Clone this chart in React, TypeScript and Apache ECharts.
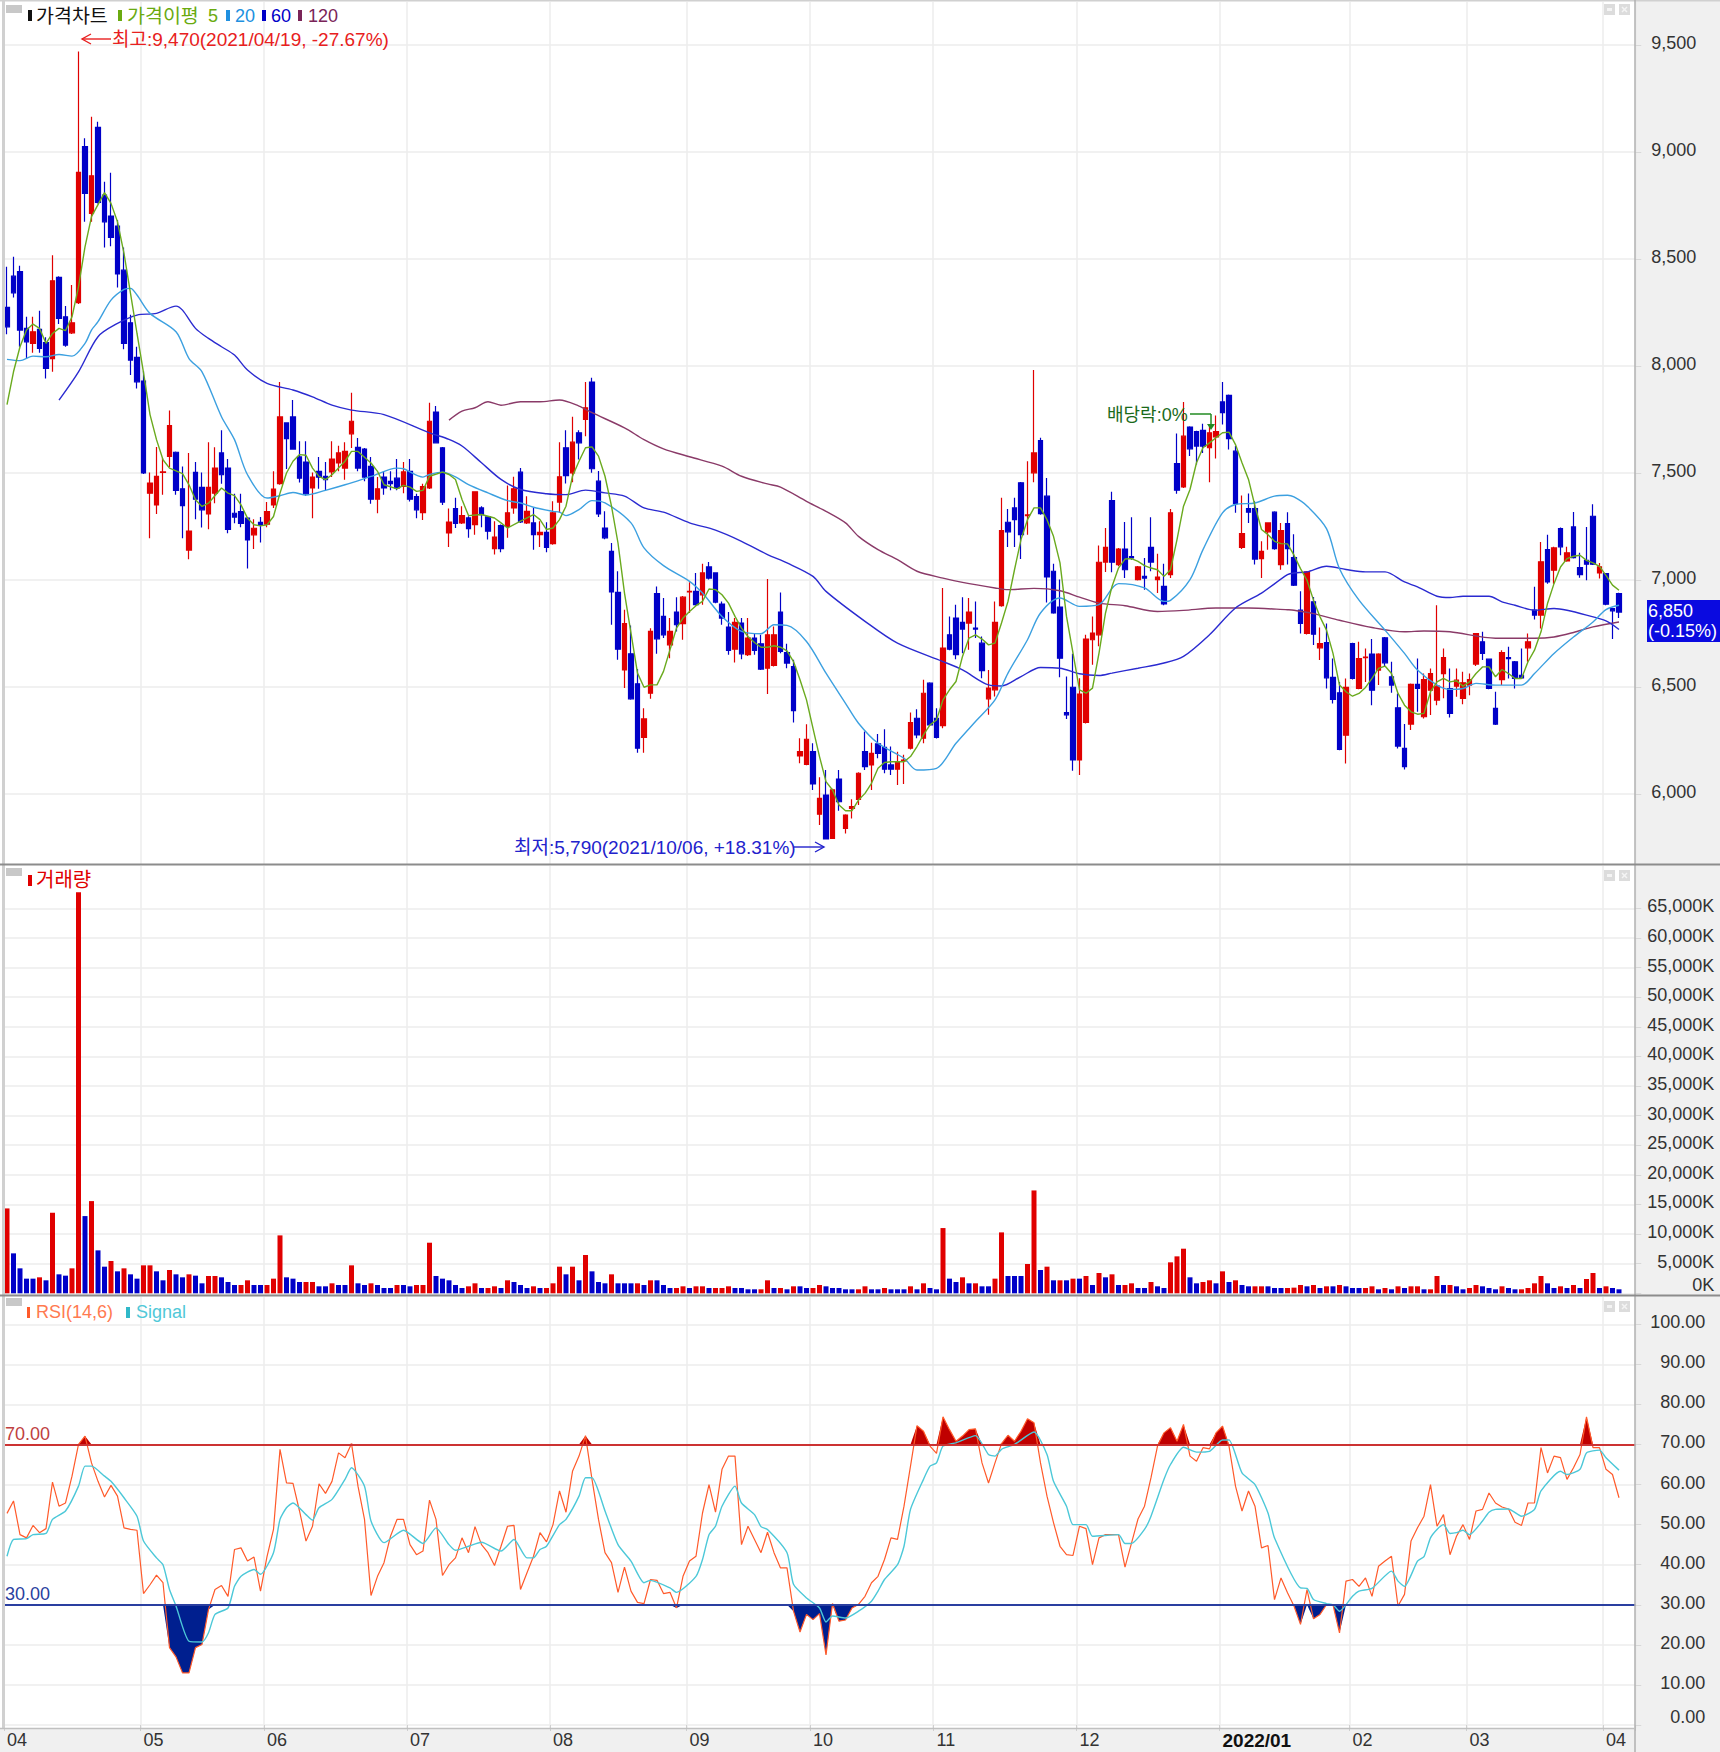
import React, { useEffect, useRef } from 'react';
import * as echarts from 'echarts';

const opens = [
  8274,8420,8441,8176,8106,8171,8109,8035,8414,8230,
  8155,8296,9025,8713,9115,8799,8701,8654,8448,8202,
  8040,7930,7406,7351,7503,7578,7597,7426,7140,7503,
  7433,7309,7406,7594,7523,7312,7320,7289,7211,7269,
  7261,7351,7450,7734,7762,7575,7551,7430,7508,7484,
  7505,7547,7523,7683,7620,7612,7531,7378,7481,7461,
  7476,7437,7508,7390,7315,7430,7785,7618,7220,7334,
  7267,7290,7259,7337,7295,7147,7254,7251,7337,7504,
  7267,7267,7212,7223,7170,7364,7618,7501,7688,7750,
  7925,7462,7243,7134,6942,6580,6655,6515,6264,6471,
  6936,6830,6697,6850,6796,6944,6947,6931,7061,7033,
  6888,6780,6677,6799,6651,6729,6702,6588,6601,6850,
  6661,6596,6178,6139,6198,5906,5995,5793,6070,5839,
  5933,5975,6198,6136,6234,6218,6136,6116,6155,6214,
  6354,6261,6518,6354,6320,6744,6822,6802,6799,6775,
  6705,6445,6487,6880,7270,7337,7454,7301,7501,7652,
  7392,7041,6874,6381,6499,6159,6335,6721,6744,7084,
  7371,7072,7145,7110,7002,7017,7153,7002,6970,7025,
  7544,7435,7715,7693,7699,7618,7669,7832,7863,7602,
  7153,7334,7334,7100,7225,7317,7072,7264,7105,6859,
  6750,6898,6683,6708,6545,6473,6275,6703,6493,6637,
  6654,6579,6730,6548,6403,6213,6327,6512,6361,6485,
  6439,6563,6493,6504,6447,6509,6607,6711,6630,6400,
  6535,6638,6618,6555,6683,6859,6836,7142,7046,7240,
  7089,7248,7058,7092,7298,7033,7030,6867,6937,
];
const closes = [
  8183,8342,8168,8113,8160,8082,7989,8398,8222,8098,
  8202,8905,8807,8889,8765,8674,8601,8430,8106,8028,
  7926,7500,7453,7484,7505,7722,7419,7348,7229,7378,
  7328,7433,7523,7492,7237,7294,7265,7187,7242,7256,
  7320,7425,7762,7661,7612,7476,7403,7481,7481,7469,
  7565,7594,7601,7742,7523,7481,7378,7426,7430,7450,
  7430,7505,7378,7328,7437,7742,7641,7364,7271,7264,
  7301,7240,7412,7306,7228,7201,7147,7314,7426,7271,
  7321,7212,7223,7153,7314,7482,7488,7644,7641,7805,
  7520,7309,7197,6944,6677,6796,6445,6214,6351,6760,
  6725,6744,6760,6791,6920,6947,6885,7033,7009,6897,
  6822,6671,6802,6655,6729,6671,6584,6744,6744,6666,
  6612,6390,6198,6256,6047,5980,5790,6019,5964,5902,
  5941,6097,6128,6190,6190,6116,6116,6151,6159,6334,
  6276,6471,6323,6265,6682,6677,6651,6771,6850,6771,
  6577,6495,6802,7231,7225,7282,7212,7304,7594,7310,
  7014,6846,6635,6370,6159,6467,6724,6752,7083,7153,
  7083,7145,7048,7103,7061,7009,7084,7014,6888,7314,
  7420,7672,7613,7626,7626,7688,7693,7782,7661,7357,
  7217,7317,7098,7134,7267,7147,7231,7147,6976,6797,
  7038,6747,6703,6543,6442,6208,6498,6540,6633,6640,
  6485,6654,6613,6509,6224,6128,6512,6493,6535,6563,
  6504,6638,6377,6532,6520,6535,6750,6657,6493,6327,
  6661,6633,6540,6543,6711,6836,7085,6991,7150,7155,
  7127,7105,7025,7074,7074,7061,6887,6856,6850,
];
const lows = [
  8148,8320,8090,8035,8062,8062,7942,7973,8196,8090,
  8150,8290,8674,8674,8760,8554,8560,8367,8078,7958,
  7895,7495,7195,7309,7398,7528,7398,7195,7097,7284,
  7245,7237,7359,7450,7219,7265,7247,7054,7145,7175,
  7247,7336,7445,7519,7610,7456,7394,7289,7426,7419,
  7481,7508,7469,7617,7508,7461,7356,7312,7398,7419,
  7419,7406,7367,7289,7281,7425,7640,7350,7154,7243,
  7262,7197,7212,7247,7189,7119,7130,7197,7310,7267,
  7262,7142,7154,7130,7165,7314,7451,7457,7563,7672,
  7501,7295,7190,6791,6627,6495,6440,6193,6193,6445,
  6655,6729,6635,6760,6721,6846,6880,6885,7002,6892,
  6791,6651,6615,6630,6645,6651,6580,6467,6596,6658,
  6588,6334,6144,6135,6019,5855,5790,5790,5922,5816,
  5886,5949,6112,6019,6167,6097,6089,6042,6047,6208,
  6261,6237,6320,6260,6307,6672,6630,6658,6674,6729,
  6541,6370,6456,6875,7154,7154,7098,7212,7457,7305,
  6895,6842,6546,6350,6109,6089,6330,6604,6690,7037,
  7036,7064,7009,7095,6998,6955,7041,6939,6882,7009,
  7403,7430,7579,7540,7594,7457,7568,7727,7610,7314,
  7145,7267,7072,7009,7142,7142,7048,7072,6972,6750,
  6745,6696,6626,6493,6423,6205,6143,6535,6490,6524,
  6415,6509,6594,6473,6213,6115,6299,6384,6353,6369,
  6415,6447,6358,6454,6419,6462,6598,6626,6489,6322,
  6509,6540,6493,6538,6618,6815,6773,6983,6983,7116,
  7085,7100,7011,6999,7070,7007,6882,6724,6823,
];
const highs = [
  8464,8511,8469,8230,8230,8258,8134,8518,8420,8280,
  8378,9470,9064,9165,9142,8861,8903,8682,8554,8240,
  8090,7977,7503,7622,7570,7792,7600,7531,7594,7551,
  7503,7644,7620,7700,7565,7403,7403,7295,7284,7294,
  7364,7508,7925,7737,7841,7648,7648,7503,7575,7551,
  7648,7628,7644,7875,7664,7617,7575,7481,7508,7508,
  7565,7551,7565,7403,7450,7828,7813,7622,7334,7384,
  7345,7298,7414,7345,7298,7275,7259,7442,7482,7524,
  7392,7337,7275,7270,7368,7644,7700,7763,7700,7925,
  7945,7509,7321,7173,7041,6861,6788,6584,6401,6775,
  6970,6916,6822,6920,6925,6989,7033,7076,7084,7036,
  6900,6850,6822,6822,6822,6752,6744,7005,6783,6942,
  6702,6627,6261,6326,6237,6078,6112,6025,6112,5905,
  5975,6102,6292,6240,6281,6303,6222,6198,6183,6381,
  6396,6534,6522,6401,6963,6830,6885,6920,6916,6900,
  6736,6580,6900,7384,7332,7384,7458,7555,7981,7665,
  7477,7076,7002,6549,6655,6541,6744,6830,7161,7243,
  7412,7150,7271,7293,7065,7103,7293,7123,7076,7332,
  7685,7832,7718,7697,7730,7719,7769,7925,7867,7626,
  7395,7404,7368,7181,7270,7321,7267,7317,7214,6948,
  7042,6921,6778,6797,6633,6524,6540,6707,6711,6680,
  6724,6658,6734,6618,6470,6327,6516,6633,6563,6587,
  6882,6680,6587,6587,6571,6563,6753,6758,6633,6478,
  6672,6688,6622,6680,6750,6968,7178,7212,7155,7245,
  7155,7318,7127,7248,7354,7080,7033,6870,6940,
];

// volume in thousands, and whether that bar is red (R) or blue (B)
const volumes = [
  14331,6744,4215,2473,2473,2698,2192,13600,3203,2979,
  4215,67720,13038,15567,7250,4496,5451,3709,4215,3203,
  2473,4721,4721,3709,2192,3934,3203,2698,3203,2979,
  1686,2922,2922,2698,1911,1405,1405,2192,1405,1405,
  1405,2473,9779,2698,2473,1911,1911,1911,1180,1180,
  1686,1405,1405,4721,1686,1405,1686,1405,899,899,
  1405,1405,1180,1405,1405,8542,2922,2473,2192,1405,
  899,1180,1686,899,899,1180,899,2192,1911,1405,
  899,1180,899,899,1686,4496,3203,4496,2192,6463,
  3709,1911,1686,3203,1686,1686,1686,1686,1405,2192,
  2192,1405,899,899,1180,899,1180,1180,899,899,
  899,1180,899,899,674,674,674,2192,899,899,
  674,1180,1180,899,899,1405,1180,899,899,674,
  674,674,1180,674,674,899,674,674,674,1180,
  674,1686,899,674,11015,2473,1911,2698,1686,1686,
  1180,1180,2473,10285,2922,2922,2922,4946,17366,3934,
  4496,2192,2192,2192,2473,2473,2922,1405,3428,2698,
  3203,1405,1405,1686,899,899,1911,1180,899,5227,
  6238,7531,2698,1686,1911,2192,1686,3709,1911,2192,
  1405,1180,1180,1180,1180,899,899,899,955,1405,
  1180,1405,899,1180,1180,1405,1180,899,899,899,
  1180,674,899,674,1180,899,1180,1180,674,674,
  2922,1405,1405,1180,674,899,1405,1180,899,674,
  1180,899,674,674,899,1686,2922,1686,899,1180,
  899,1405,899,2417,3428,899,1180,899,674,
];
const volumeSides =
  'RBBBBRBRBB' + 'RRBRBBRBRB' + 'BRRBBRBBRB' + 'BRRBBBRRBB' + 'RRRBBBRRBB' +
  'RBBRBBRBBB' + 'RBBRRRBBBB' + 'BRRBRRBRBB' + 'BRBRRRBRBR' + 'BBBRBBBRBR' +
  'BBBRRBRRBR' + 'RRBBBBRRBR' + 'BRBBRRBBBB' + 'BRRBBRBBBR' + 'BRBBRBBRBR' +
  'BBRRBBBRRB' + 'RBRBRBRBRB' + 'RBRRBBRBBR' + 'RRBBRRBRBR' + 'BBRRBBBRRR' +
  'BRBRBRBBBR' + 'RBRBRBRRBR' + 'RBRBBRRBBB' + 'RBBRRRRBBR' + 'BRBRRBRBB';

const rsi = [
  52.8,55.9,47.5,46.7,49.8,48,49,60.6,54.6,55.4,
  62.1,70,72.1,65.4,60.8,56.9,59.8,57.1,49.2,48.8,
  48.6,32.8,35,37.4,35.5,19.3,17,13,13,19.3,
  20.1,28.8,33.8,34.8,32.1,43.8,44.2,40.9,41.9,33.4,
  42,48.8,68.8,60.4,60.3,53.4,45.9,49.6,60.2,57.8,
  60.8,67.9,66.7,70.2,59.6,51.3,32.3,37.1,40.5,47.1,
  51.3,51.3,45,42.5,43.4,56.1,51.3,37.3,40,41.7,
  46.7,43,49.5,45,43,39.8,44.6,49.6,49.8,33.8,
  38,42.1,48,45.7,50,58.4,53.1,63.3,67.1,72.2,
  61.3,51.3,43,40.5,33.1,39.4,33.4,30.6,30.3,36.3,
  36.1,32.8,33.1,29.2,37.1,40.9,42.1,52.9,60,53.1,
  63.8,67.1,67.1,45,49.6,46.3,43,48.1,43,39.2,
  39.2,28.4,23.2,27.6,26.3,27.8,17.5,30.3,25.9,26.2,
  29.2,30.1,32.1,35.5,37.1,41.3,46.7,46.3,54.6,64.6,
  74.7,73.3,69.6,67.8,76.9,73.7,70.8,72.1,73.7,73.9,
  65.4,60.4,65.4,70.2,72.3,70.8,73.3,76.4,75.4,65.4,
  57.1,50.5,44.6,42.5,42.3,49.6,49,40,46.7,47.5,
  47.5,47.5,39.4,45.4,51.4,54.6,61.7,69.6,72.9,74.2,
  70.8,75,67.1,65.8,69.2,68.9,72.9,74.6,69.6,59.6,
  53.4,58.4,54.6,44.2,44.8,31.3,36.7,33,29.7,25.1,
  33.8,26.5,27.6,30,30,23,35.9,36.3,34.6,36.7,
  32.1,39.6,40.9,42.1,29.7,32.6,45.9,49.2,52.1,60,
  49.6,52.5,42.5,47.1,50,46.3,53.4,53.8,57.9,55.4,
  54.4,53.9,50.6,49.8,55.4,55.4,69.2,62.9,67.1,66.7,
  61.3,64.2,67.5,76.9,69.2,69.2,63.8,62.5,56.7,
];

// the smoother lines are kept as the [candle index, value] points
const signalLine = [
  [0,42.1],[1,46.3],[3,46.5],[4,47.5],[6,47.8],[7,51.3],[9,53.4],[11,59.6],[12,64.6],[13,64.6],
  [15,62.1],[16,60.8],[18,56.7],[20,52.1],[21,45.9],[23,41.7],[24,40],[25,33.8],[26,29.7],[28,20.9],
  [30,20.7],[31,23],[32,27.6],[34,29.2],[35,34.6],[36,37.1],[38,38.8],[39,37.6],[41,43],[42,51.3],
  [43,54.2],[44,55.4],[46,52.5],[47,51.1],[48,54.2],[50,56.3],[52,61.3],[53,64.2],[55,59.6],[56,50.9],
  [58,45.5],[61,48.6],[64,45.3],[66,49.2],[68,45],[69,43.6],[71,44.6],[73,45.6],[76,43.4],[78,46.3],
  [80,41.7],[81,41.7],[82,43.8],[83,44.6],[85,50],[86,51.3],[88,57.1],[89,61.7],[90,61.7],[92,53.4],
  [94,45],[96,40.9],[98,35.5],[99,36.1],[102,34.2],[103,33.1],[106,37.1],[107,41.3],[108,47.5],[109,49.6],
  [110,54.6],[112,59.6],[113,55.4],[115,52.5],[116,49.5],[117,48.8],[120,43],[121,35.1],[123,31.7],[125,29.2],
  [126,25.7],[127,27.2],[129,26.7],[131,28.4],[133,30.9],[134,33.4],[135,36.3],[137,40],[138,44.6],[139,53.8],
  [141,61.3],[142,64.6],[143,65.4],[144,69.6],[146,70.4],[149,72.2],[151,67.5],[152,67.1],[153,68.8],[155,70],
  [158,73.1],[160,67.5],[161,60.8],[163,54.6],[164,50],[166,50],[167,47.1],[171,47.5],[172,45.3],[173,45.3],
  [175,48.8],[176,52.1],[178,61.3],[179,65],[181,69.3],[183,68.1],[185,68.3],[187,71.1],[188,71.1],[190,62.9],
  [192,60],[194,52.9],[195,46.7],[199,34.2],[200,34.1],[201,31.3],[203,30.3],[204,30],[205,28.4],[207,32.1],
  [208,33.4],[210,34.1],[213,38.4],[214,35.9],[215,34.6],[217,40.9],[218,42],[219,46.7],[220,48.8],[221,50],
  [222,47.8],[223,48],[224,48.6],[225,47.5],[227,50.9],[228,53.1],[229,53.8],[231,53.9],[233,52.1],[235,53.8],
  [236,58.4],[239,63.3],[240,62.5],[242,63.8],[243,67.9],[245,68.6],[246,66.7],[248,63.6],
];

const ma5 = [
  [0,7820],[1,7973],[2,8090],[3,8168],[4,8196],[5,8176],[6,8106],[7,8152],[8,8176],[9,8165],
  [10,8230],[11,8370],[12,8557],[13,8698],[15,8810],[16,8760],[17,8674],[18,8526],[19,8339],[20,8152],
  [21,7969],[22,7773],[23,7656],[24,7562],[25,7523],[27,7497],[28,7445],[29,7375],[30,7344],[31,7359],
  [33,7430],[34,7406],[35,7394],[36,7351],[37,7289],[38,7258],[39,7253],[40,7258],[41,7297],[42,7406],
  [43,7500],[44,7555],[45,7586],[46,7583],[47,7523],[48,7484],[49,7469],[50,7492],[52,7555],[53,7601],
  [54,7601],[56,7547],[57,7508],[58,7445],[60,7426],[61,7442],[62,7434],[63,7414],[64,7419],[65,7485],
  [67,7504],[68,7493],[69,7470],[70,7376],[71,7301],[73,7306],[75,7290],[76,7267],[77,7243],[79,7275],
  [81,7306],[82,7282],[83,7236],[84,7243],[85,7282],[86,7345],[87,7485],[88,7555],[89,7618],[90,7622],
  [91,7579],[92,7485],[93,7345],[94,7173],[95,6939],[96,6752],[97,6565],[98,6499],[99,6510],[100,6510],
  [101,6573],[102,6674],[103,6775],[104,6822],[105,6853],[106,6880],[107,6900],[108,6958],[109,6955],[110,6931],
  [111,6892],[112,6830],[113,6775],[114,6736],[115,6708],[116,6686],[117,6686],[118,6693],[119,6686],[120,6669],
  [121,6619],[122,6534],[123,6440],[124,6307],[125,6175],[126,6058],[127,6019],[128,5949],[129,5922],[130,5922],
  [131,5972],[132,6003],[133,6050],[134,6120],[135,6147],[136,6151],[137,6151],[138,6151],[139,6175],[140,6222],
  [141,6276],[142,6323],[143,6346],[144,6440],[145,6487],[146,6526],[147,6643],[148,6729],[149,6744],[150,6724],
  [151,6697],[152,6705],[153,6799],[154,6900],[155,7048],[156,7189],[157,7282],[158,7337],[159,7337],[160,7282],
  [161,7204],[162,7080],[163,6830],[164,6658],[165,6487],[166,6471],[167,6495],[168,6658],[169,6846],[170,6970],
  [171,7056],[172,7098],[173,7100],[174,7087],[175,7067],[176,7056],[177,7048],[178,7017],[179,7048],[180,7189],
  [181,7345],[182,7423],[183,7548],[184,7618],[185,7641],[186,7665],[187,7688],[188,7691],[189,7633],[190,7548],
  [191,7470],[192,7345],[193,7236],[194,7212],[195,7181],[196,7170],[197,7169],[198,7116],[199,7053],[200,6999],
  [201,6906],[202,6828],[203,6766],[204,6657],[205,6509],[206,6478],[207,6457],[208,6470],[209,6498],[210,6540],
  [211,6587],[212,6598],[213,6563],[214,6470],[215,6415],[216,6384],[217,6373],[218,6377],[219,6478],[220,6524],
  [221,6540],[222,6524],[223,6529],[224,6504],[225,6524],[226,6563],[227,6594],[228,6594],[229,6548],[230,6582],
  [231,6563],[232,6540],[233,6540],[234,6618],[235,6672],[236,6758],[237,6890],[238,6983],[239,7061],[240,7100],
  [241,7111],[242,7116],[243,7092],[244,7080],[245,7064],[246,7022],[247,6976],[248,6952],
];
const ma20 = [
  [0,8031],[2,8025],[4,8046],[6,8043],[8,8054],[10,8046],[12,8106],[13,8168],[14,8207],[16,8308],
  [18,8358],[19,8363],[20,8332],[22,8246],[26,8160],[28,8035],[30,7973],[33,7763],[35,7656],[37,7492],
  [40,7383],[42,7394],[44,7409],[46,7397],[49,7419],[52,7445],[56,7484],[60,7523],[61,7520],[64,7481],
  [65,7493],[67,7504],[69,7482],[71,7446],[74,7407],[77,7371],[79,7360],[81,7340],[84,7321],[85,7317],
  [86,7301],[88,7329],[90,7371],[92,7360],[96,7267],[98,7150],[101,7067],[105,6994],[107,6939],[110,6830],
  [113,6760],[116,6749],[118,6791],[120,6788],[123,6713],[126,6565],[129,6424],[131,6331],[134,6237],[138,6167],
  [140,6112],[143,6120],[146,6237],[149,6339],[152,6440],[154,6565],[157,6721],[159,6846],[162,6916],[165,6877],
  [168,6885],[171,6983],[175,6963],[178,6900],[179,6905],[182,7002],[184,7142],[187,7314],[189,7353],[192,7360],
  [195,7392],[197,7396],[198,7388],[200,7346],[203,7240],[205,7053],[208,6906],[212,6766],[215,6657],[217,6579],
  [220,6509],[222,6489],[224,6493],[226,6517],[229,6509],[233,6509],[235,6563],[238,6657],[241,6734],[244,6804],
  [246,6862],[248,6882],
];
const ma60 = [
  [8,7841],[11,7973],[14,8137],[17,8199],[20,8238],[23,8246],[26,8280],[27,8261],[29,8176],[31,8129],
  [33,8090],[35,8051],[37,7981],[40,7919],[44,7888],[47,7856],[50,7817],[53,7794],[58,7773],[65,7688],
  [68,7657],[70,7626],[73,7548],[76,7470],[79,7423],[83,7403],[86,7399],[89,7420],[92,7407],[95,7392],
  [98,7337],[101,7317],[105,7267],[109,7233],[113,7181],[117,7119],[120,7080],[124,7017],[126,6947],[132,6807],
  [137,6705],[144,6619],[147,6580],[151,6510],[153,6505],[156,6549],[159,6591],[162,6588],[165,6562],[168,6554],
  [170,6565],[174,6588],[178,6612],[181,6643],[185,6744],[189,6869],[193,6939],[197,7025],[198,7033],[200,7038],
  [203,7064],[206,7049],[209,7038],[212,7038],[215,6991],[217,6968],[220,6924],[222,6918],[224,6924],[228,6924],
  [230,6898],[232,6882],[235,6859],[238,6867],[240,6859],[243,6836],[246,6809],[248,6769],
];
const ma120 = [
  [68,7747],[70,7789],[72,7805],[74,7833],[76,7817],[79,7833],[82,7833],[85,7841],[88,7813],[90,7782],
  [95,7711],[98,7656],[101,7613],[105,7576],[110,7532],[113,7485],[117,7449],[119,7434],[123,7368],[126,7321],
  [129,7267],[131,7204],[134,7142],[137,7095],[140,7041],[144,7009],[147,6989],[152,6963],[154,6955],[158,6961],
  [162,6950],[165,6920],[168,6892],[172,6880],[177,6853],[181,6858],[186,6869],[191,6869],[197,6861],[198,6859],
  [201,6843],[205,6812],[210,6778],[215,6758],[218,6762],[222,6758],[229,6728],[235,6728],[238,6734],[241,6755],
  [244,6781],[248,6804],
];

const priceTicks = [6000, 6500, 7000, 7500, 8000, 8500, 9000, 9500];
const volumeTicks = [0, 5000, 10000, 15000, 20000, 25000, 30000, 35000, 40000, 45000, 50000, 55000, 60000, 65000];
const rsiTicks = [0, 10, 20, 30, 40, 50, 60, 70, 80, 90, 100];
const monthStarts = [0, 21, 40, 62, 84, 105, 124, 143, 165, 187, 207, 225, 246];
const monthLabels = ['04', '05', '06', '07', '08', '09', '10', '11', '12', '2022/01', '02', '03', '04'];

const RED = '#e00000';
const BLUE = '#0000c8';
const GRID = '#ececec';
const FONT = '"Liberation Sans", "Noto Sans CJK KR", sans-serif';
const SLOTS = 251; // 249 candles and the empty room right of the last one
const categories = Array.from({ length: SLOTS }, (_, i) => String(i));
const grids = [
  { left: 3.75, width: 1631.5, top: 2, height: 862 },
  { left: 3.75, width: 1631.5, top: 866, height: 427.3 },
  { left: 3.75, width: 1631.5, top: 1297, height: 431 },
];

const label = (x: number, y: number, text: string, fill: string, fontSize = 18) => ({
  type: 'text',
  x,
  y,
  z: 10,
  style: { text, fill, fontSize, fontFamily: FONT, verticalAlign: 'middle' },
});
const box = (x: number, y: number, width: number, height: number, fill: string, z = 10) => ({
  type: 'rect',
  z,
  shape: { x, y, width, height },
  style: { fill },
});
const rule = (x1: number, y1: number, x2: number, y2: number, stroke: string, lineWidth = 2) => ({
  type: 'line',
  z: 10,
  shape: { x1, y1, x2, y2 },
  style: { stroke, lineWidth },
});
const arrowHead = (x: number, y: number, dir: number, stroke: string) => ({
  type: 'polyline',
  z: 10,
  shape: { points: [[x - dir * 9, y - 5], [x, y], [x - dir * 9, y + 5]] },
  style: { stroke, lineWidth: 1.4, fill: 'none' },
});
const panelButtons = (y: number) => [
  box(1604, y, 11, 11, '#dcdcdc'),
  box(1607, y + 4, 5, 3, '#f4f4f4'),
  box(1619, y, 11, 11, '#dcdcdc'),
  rule(1622, y + 3, 1627, y + 8, '#f4f4f4', 1.5),
  rule(1627, y + 3, 1622, y + 8, '#f4f4f4', 1.5),
];

const xAxisFor = (gridIndex: number, withLabels: boolean) => ({
  type: 'category',
  gridIndex,
  data: categories,
  axisLine: { show: false },
  axisTick: withLabels
    ? { show: true, length: 6, lineStyle: { color: '#cfcfcf' }, interval: (i: number) => monthStarts.includes(i) }
    : { show: false },
  splitLine: {
    show: true,
    interval: (i: number) => monthStarts.includes(i) && i > 0,
    lineStyle: { color: GRID, width: 1.5 },
  },
  axisLabel: withLabels
    ? {
        show: true,
        interval: (i: number) => monthStarts.includes(i),
        align: 'left',
        margin: 3,
        fontSize: 18,
        fontFamily: FONT,
        color: '#333',
        formatter: (_: string, i: number) => {
          const text = monthLabels[monthStarts.indexOf(i)];
          return text === '2022/01' ? `{strong|${text}}` : text;
        },
        rich: { strong: { fontSize: 19, fontWeight: 'bold', color: '#111', fontFamily: FONT } },
      }
    : { show: false },
});

// the lowest label of the volume and RSI scales sits above its grid line
const yAxisFor = (
  gridIndex: number,
  min: number,
  max: number,
  ticks: number[],
  margin: number,
  formatter: (v: number) => string,
  liftFirstLabel = false,
) => ({
  type: 'value',
  gridIndex,
  position: 'right',
  min,
  max,
  axisLine: { show: false },
  axisTick: { show: true, length: 6, customValues: ticks, lineStyle: { color: '#d8d8d8' } },
  splitLine: { show: true, lineStyle: { color: GRID, width: 1.5 } },
  axisLabel: {
    customValues: ticks,
    align: 'right',
    margin,
    fontSize: 18,
    fontFamily: FONT,
    color: '#333',
    padding: [0, 0, 4, 0],
    showMinLabel: true,
    rich: { low: { fontSize: 18, fontFamily: FONT, color: '#333', padding: [0, 0, 12, 0] } },
    formatter: (v: number) => (liftFirstLabel && v === 0 ? `{low|${formatter(v)}}` : formatter(v)),
  },
});

const lineSeries = (name: string, xAxisIndex: number, data: number[][], color: string, width = 1.4, smooth: number | boolean = false) => ({
  name,
  type: 'line',
  xAxisIndex,
  yAxisIndex: xAxisIndex,
  data,
  symbol: 'none',
  silent: true,
  smooth,
  lineStyle: { color, width },
});

export default function App() {
  const chartRef = useRef<HTMLDivElement | null>(null);

  useEffect(() => {
    if (!chartRef.current) return;
    const chart = echarts.init(chartRef.current, undefined, { renderer: 'svg' });

    const candles = opens.map((o, i) => [o, closes[i], lows[i], highs[i]]);
    const volumeBars = volumes.map((v, i) => ({
      value: v,
      itemStyle: { color: volumeSides[i] === 'R' ? RED : BLUE },
    }));

    const option = {
      animation: false,
      backgroundColor: '#fff',
      grid: grids,
      xAxis: [xAxisFor(0, false), xAxisFor(1, false), xAxisFor(2, true)],
      yAxis: [
        yAxisFor(0, 5673, 9701, priceTicks, 61, (v: number) => v.toLocaleString('en-US')),
        yAxisFor(1, 0, 72143, volumeTicks, 79, (v: number) => `${v.toLocaleString('en-US')}K`, true),
        yAxisFor(2, -0.75, 106.8, rsiTicks, 70, (v: number) => v.toFixed(2), true),
      ],
      series: [
        {
          name: '가격차트',
          type: 'candlestick',
          xAxisIndex: 0,
          yAxisIndex: 0,
          data: candles,
          barWidth: 5,
          silent: true,
          itemStyle: { color: RED, color0: BLUE, borderColor: RED, borderColor0: BLUE, borderWidth: 1.2 },
        },
        lineSeries('120', 0, ma120, '#8a3a68', 1.4, 0.3),
        lineSeries('60', 0, ma60, '#2a2ad0', 1.4, 0.3),
        lineSeries('20', 0, ma20, '#3ca0e0', 1.4, 0.3),
        lineSeries('5', 0, ma5, '#6aaa1e'),
        {
          name: '거래량',
          type: 'bar',
          xAxisIndex: 1,
          yAxisIndex: 1,
          data: volumeBars,
          barWidth: 5,
          silent: true,
        },
        {
          name: 'over70',
          type: 'line',
          xAxisIndex: 2,
          yAxisIndex: 2,
          data: rsi.map((v) => Math.max(v, 70)),
          symbol: 'none',
          silent: true,
          lineStyle: { width: 0 },
          areaStyle: { color: '#c00000', origin: 70, opacity: 1 },
        },
        {
          name: 'under30',
          type: 'line',
          xAxisIndex: 2,
          yAxisIndex: 2,
          data: rsi.map((v) => Math.min(v, 30)),
          symbol: 'none',
          silent: true,
          lineStyle: { width: 0 },
          areaStyle: { color: '#001f8f', origin: 30, opacity: 1 },
        },
        {
          ...lineSeries('RSI(14,6)', 2, rsi.map((v, i) => [i, v]), '#ff5a2a', 1.2),
          markLine: {
            silent: true,
            symbol: 'none',
            label: { show: false },
            data: [
              { yAxis: 70, lineStyle: { color: '#cc3333', width: 2, type: 'solid' } },
              { yAxis: 30, lineStyle: { color: '#2a3fa0', width: 2, type: 'solid' } },
            ],
          },
        },
        lineSeries('Signal', 2, signalLine, '#4cc8d8', 1.4, 0.2),
      ],
      graphic: [
        box(1635, 0, 85, 1752, '#f0f0f0', -1),
        box(0, 1728, 1720, 24, '#f0f0f0', -1),
        box(2, 0, 3, 1728, '#d0d0d0', 8),
        box(0, 0, 1720, 1.5, '#d0d0d0', 8),
        rule(1635, 0, 1635, 1752, '#b0b0b0', 1.5),
        rule(0, 864.5, 1720, 864.5, '#8c8c8c', 2),
        rule(0, 1295.5, 1720, 1295.5, '#8c8c8c', 2),
        rule(0, 1728.5, 1635, 1728.5, '#c0c0c0', 1.5),

        box(6, 5, 16, 8, '#c8c8c8'),
        box(28, 10, 4, 11, '#111'),
        label(36, 16, '가격차트', '#111', 19.5),
        box(118, 10, 4, 11, '#6aaa10'),
        label(127, 16, '가격이평', '#6aaa10', 19.5),
        label(208, 16, '5', '#6aaa10'),
        box(226, 10, 4, 11, '#2090e0'),
        label(235, 16, '20', '#2090e0'),
        box(262, 10, 4, 11, BLUE),
        label(271, 16, '60', BLUE),
        box(298, 10, 4, 11, '#7a2458'),
        label(308, 16, '120', '#7a2458'),

        rule(82, 39, 111, 39, '#e82020', 1.4),
        arrowHead(82, 39, -1, '#e82020'),
        label(112, 39, '최고:9,470(2021/04/19, -27.67%)', '#e82020', 19),
        label(514, 847, '최저:5,790(2021/10/06, +18.31%)', '#2222cc', 19),
        rule(794, 847, 824, 847, '#2222cc', 1.4),
        arrowHead(824, 847, 1, '#2222cc'),

        label(1107, 415, '배당락:0%', '#1a6a1a'),
        rule(1190, 414, 1211, 414, '#228b22', 1.5),
        rule(1211, 414, 1211, 424, '#228b22', 1.5),
        { type: 'polygon', z: 10, shape: { points: [[1207, 424], [1215, 424], [1211, 430]] }, style: { fill: '#228b22' } },

        box(1647, 600, 73, 42, '#0a0ae0'),
        label(1648, 611, '6,850', '#fff'),
        label(1648, 631, '(-0.15%)', '#fff'),

        box(6, 868, 16, 8, '#c8c8c8'),
        box(28, 875, 4, 11, RED),
        label(36, 880, '거래량', RED, 20),

        box(6, 1298, 16, 8, '#c8c8c8'),
        box(27, 1307, 3, 11, '#ff5a2a'),
        label(36, 1312, 'RSI(14,6)', '#ff7a50'),
        box(126, 1307, 4, 11, '#30b8c8'),
        label(136, 1312, 'Signal', '#50c8d8'),
        label(5, 1434, '70.00', '#c04040'),
        label(5, 1594, '30.00', '#2a3fa0'),

        ...panelButtons(4),
        ...panelButtons(870),
        ...panelButtons(1301),
      ],
    };

    chart.setOption(option);

    return () => {
      chart.dispose();
    };
  }, []);

  return <div ref={chartRef} style={{ position: 'absolute', left: 0, top: 0, width: 1720, height: 1752 }} />;
}
